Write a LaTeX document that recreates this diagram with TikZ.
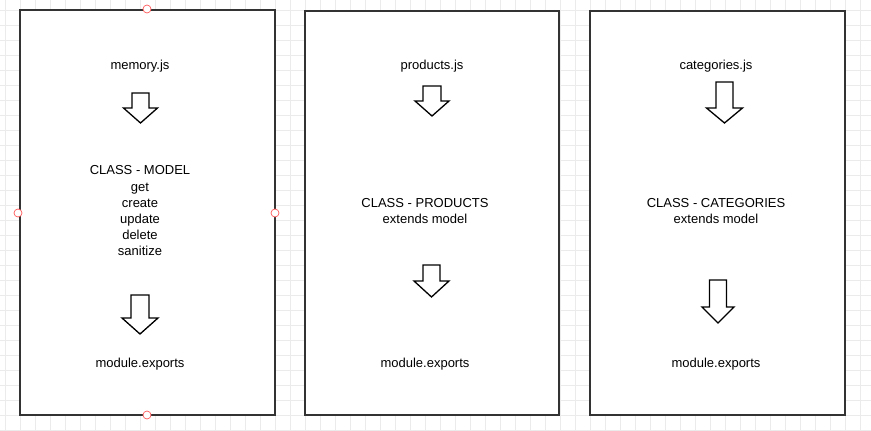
\documentclass[tikz,border=0pt]{standalone}
\usepackage{fontspec}
\setmainfont{Liberation Sans}
\newcommand{\blockarrow}[6]{% x, top, headstart, tip, shaft half width, head half width
  \draw[barrow] (#1-#5,#2) -- (#1+#5,#2) -- (#1+#5,#3) -- (#1+#6,#3) -- (#1,#4)
    -- (#1-#6,#3) -- (#1-#5,#3) -- cycle;}
\begin{document}
\begin{tikzpicture}[x=1pt,y=-1pt,
  gridline/.style={draw=black!8,line width=0.6pt},
  box/.style={draw=black!80,line width=2pt,fill=white},
  barrow/.style={draw=black,line width=1.3pt,fill=white,line join=miter},
  lbl/.style={font=\fontsize{13pt}{16.2pt}\selectfont,inner sep=0pt,align=center},
  handle/.style={circle,draw=red!65!white,fill=white,line width=0.7pt,minimum size=8pt,inner sep=0pt}]
\useasboundingbox (0,0) rectangle (871,431);
\fill[white] (0,0) rectangle (871,431);
\foreach \x in {5,20,...,870} \draw[gridline] (\x,0) -- (\x,431);
\foreach \y in {10,25,...,430} \draw[gridline] (0,\y) -- (871,\y);
% boxes
\draw[box] (20,10) rectangle (275,415);
\draw[box] (305,11) rectangle (559,415);
\draw[box] (590,11) rectangle (845,415);
% box 1
\node[lbl] (mem) at (140,66) {memory.js};
\blockarrow{140.5}{93}{108}{123}{8.5}{17}
\node[lbl] (model) at (140,211) {CLASS - MODEL\\get\\create\\update\\delete\\sanitize};
\blockarrow{140}{295}{318}{334}{9}{18}
\node[lbl] (exp1) at (140,364) {module.exports};
% box 2
\node[lbl] (prod) at (432,66) {products.js};
\blockarrow{432}{86}{101}{116}{9}{17}
\node[lbl] (cprod) at (425,211) {CLASS - PRODUCTS\\extends model};
\blockarrow{431.5}{265}{281}{297}{8.5}{17.5}
\node[lbl] (exp2) at (425,364) {module.exports};
% box 3
\node[lbl] (cat) at (716,66) {categories.js};
\blockarrow{724.5}{82}{108}{123}{8.5}{18}
\node[lbl] (ccat) at (716,211) {CLASS - CATEGORIES\\extends model};
\blockarrow{718}{280}{307}{323}{8.5}{16}
\node[lbl] (exp3) at (716,364) {module.exports};
% selection handles
\node[handle] (ht) at (147,9) {};
\node[handle] (hb) at (147,415) {};
\node[handle] (hl) at (18,213) {};
\node[handle] (hr) at (275,213) {};
\end{tikzpicture}
\end{document}
